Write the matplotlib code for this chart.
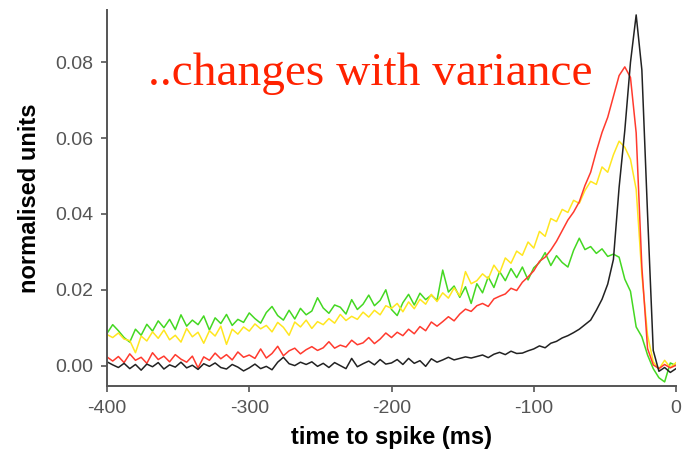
#!/usr/bin/env python3
"""Spike-triggered average for four stimulus variances"""

import numpy as np
from matplotlib import pyplot as plt

plt.rcParams['axes.unicode_minus'] = False

# time before the spike, 4 ms bins
time_ms = list(range(-400, 1, 4))

# averages in units of 1e-3 (normalised)
black = [
    1.0, 0.2, -0.5, 0.6, -0.8, 0.3, -1.2, 0.4, -0.3, 0.8,
    -0.9, 0.2, -0.4, 0.9, -0.6, 0.1, -1.0, 0.5, -0.2, 0.7,
    -0.5, -0.9, 0.3, -0.4, -1.4, -0.6, 0.4, -0.8, -0.2, -1.1,
    0.9, 2.2, 0.5, 0.0, 0.9, 0.3, 1.0, -0.2, 0.6, -0.5,
    0.8, 0.0, -0.8, 1.9, -0.3, 0.5, 1.2, 0.2, 1.6, 0.4,
    0.7, 1.6, 0.3, 1.9, 0.6, 1.3, -0.2, 1.8, 0.9, 1.5,
    2.2, 1.5, 1.9, 2.3, 2.0, 2.4, 2.8, 2.1, 3.0, 3.5,
    2.9, 3.8, 3.2, 3.3, 3.9, 4.4, 5.2, 4.7, 5.9, 6.4,
    7.3, 7.9, 8.7, 9.6, 10.8, 12.0, 14.6, 17.5, 21.5, 28.0,
    47.0, 62.0, 80.0, 92.5, 78.0, 40.0, 4.0, -1.5, -0.5, -1.8,
    -0.8,
]
red = [
    2.3, 1.2, 2.4, 0.8, 3.1, 1.4, 2.2, 0.6, 3.4, 1.6,
    2.5, 1.0, 2.9, 1.7, 0.9, 2.5, -0.6, 2.3, 1.4, 3.3,
    1.8, 2.9, 1.5, 3.6, 2.2, 2.8, 1.9, 4.4, 2.0, 3.2,
    5.1, 2.6, 3.9, 4.6, 3.1, 4.2, 5.0, 4.0, 4.7, 6.3,
    4.6, 5.4, 4.9, 6.7, 5.5, 6.0, 7.4, 5.8, 7.0, 8.6,
    7.4, 8.8, 7.9, 9.6, 8.4, 10.3, 9.2, 11.5, 10.4, 11.6,
    12.9, 11.8, 13.6, 14.9, 14.3, 15.8, 16.4, 15.6, 17.6, 18.3,
    18.9, 20.4, 19.8, 22.0, 23.4, 25.0, 27.5, 28.6, 30.5, 32.8,
    35.6, 38.4, 40.5, 43.2, 47.5, 51.0, 56.5, 61.5, 65.5, 71.0,
    76.5, 78.8, 76.0, 61.4, 26.0, 4.5, 0.2, -0.8, 0.3, -0.6,
    0.1,
]
yellow = [
    8.2, 7.4, 8.6, 7.0, 6.6, 3.4, 7.8, 6.5, 8.9, 7.2,
    9.4, 6.8, 8.0, 6.2, 9.8, 7.6, 8.8, 5.9, 9.2, 7.8,
    10.4, 5.6, 9.6, 8.3, 10.2, 9.1, 11.0, 9.7, 10.6, 8.9,
    11.4, 10.1, 8.0, 11.5, 10.2, 12.0, 9.8, 11.6, 10.8, 12.4,
    11.2, 13.5, 11.9, 13.0, 12.2, 14.1, 12.8, 14.6, 13.4, 15.8,
    15.1, 16.4, 14.2, 16.8, 15.0, 17.5, 16.2, 18.8, 16.9, 19.2,
    17.8, 20.5, 18.4, 24.8, 21.6, 22.4, 24.2, 22.9, 26.5, 24.4,
    28.4, 27.0, 30.2, 29.1, 32.6, 31.0, 35.4, 34.1, 38.8, 38.0,
    41.2, 40.4, 43.6, 42.8, 46.2, 48.6, 47.8, 52.4, 51.0, 55.6,
    59.2, 57.6, 54.4, 46.5, 24.0, 8.0, 1.0, -0.9, 1.4, -0.5,
    0.8,
]
green = [
    8.5, 10.8, 9.2, 7.4, 6.2, 9.6, 8.0, 10.9, 9.1, 11.8,
    10.0, 12.2, 9.5, 13.4, 10.4, 12.0, 10.8, 13.1, 9.4, 12.6,
    11.1, 13.5, 10.6, 12.2, 11.4, 13.9, 12.4, 11.2, 14.0, 15.6,
    13.2, 12.0, 14.6, 12.3, 15.1, 13.4, 14.4, 17.9, 15.2, 13.8,
    16.0, 15.4, 13.6, 17.4, 14.8, 16.2, 18.6, 15.8, 17.2, 20.0,
    14.8, 13.2, 16.6, 18.8, 16.0, 19.1, 17.4, 18.6, 17.2, 25.2,
    19.4, 21.0, 18.0, 20.8, 16.4, 21.6, 19.2, 23.4, 20.6, 24.8,
    22.4, 25.6, 23.2, 26.0, 22.6, 25.8, 27.2, 29.8, 26.4, 29.0,
    27.2, 26.0, 30.4, 33.6, 30.6, 31.4, 29.6, 30.8, 28.8, 29.4,
    28.6, 22.8, 19.6, 10.2, 7.6, 2.8, -0.8, -3.2, -4.3, 0.7,
    0.0,
]

series = [
    (green, '#44d822'),
    (yellow, '#ffe620'),
    (red, '#ff3a2e'),
    (black, '#222222'),
]

AXIS_GREY = '#555555'

fig = plt.figure(figsize=(6.84, 4.57), dpi=100)
ax = fig.add_axes([107/684, 1 - 385.7/457, 569/684, 375.7/457])

for values, color in series:
    ax.plot(time_ms, np.array(values) * 1e-3, color=color, lw=1.1)

ax.set_xlim(-400, 0)
ax.set_ylim(-0.0053, 0.0938)
ax.set_xticks([-400, -300, -200, -100, 0])
ax.set_yticks([0.0, 0.02, 0.04, 0.06, 0.08])
ax.set_yticklabels(['0.00', '0.02', '0.04', '0.06', '0.08'])

for side in ('top', 'right'):
    ax.spines[side].set_visible(False)
for side in ('left', 'bottom'):
    ax.spines[side].set_color(AXIS_GREY)
    ax.spines[side].set_linewidth(1.4)

ax.tick_params(colors=AXIS_GREY, labelcolor=AXIS_GREY, length=4, width=1.2,
               labelsize=14, pad=6)
for lab in ax.get_xticklabels() + ax.get_yticklabels():
    lab.set_family('Liberation Sans')

ax.set_xlabel('time to spike (ms)', fontsize=17, fontweight='bold',
              family='Liberation Sans', labelpad=7)
ax.set_ylabel('normalised units', fontsize=17, fontweight='bold',
              family='Liberation Sans', labelpad=10)

fig.text(148/684, 1 - 85/457, '..changes with variance', color='#ff2200',
         fontsize=34, family='Liberation Serif', ha='left', va='baseline')

plt.savefig('out.png', dpi=100)
